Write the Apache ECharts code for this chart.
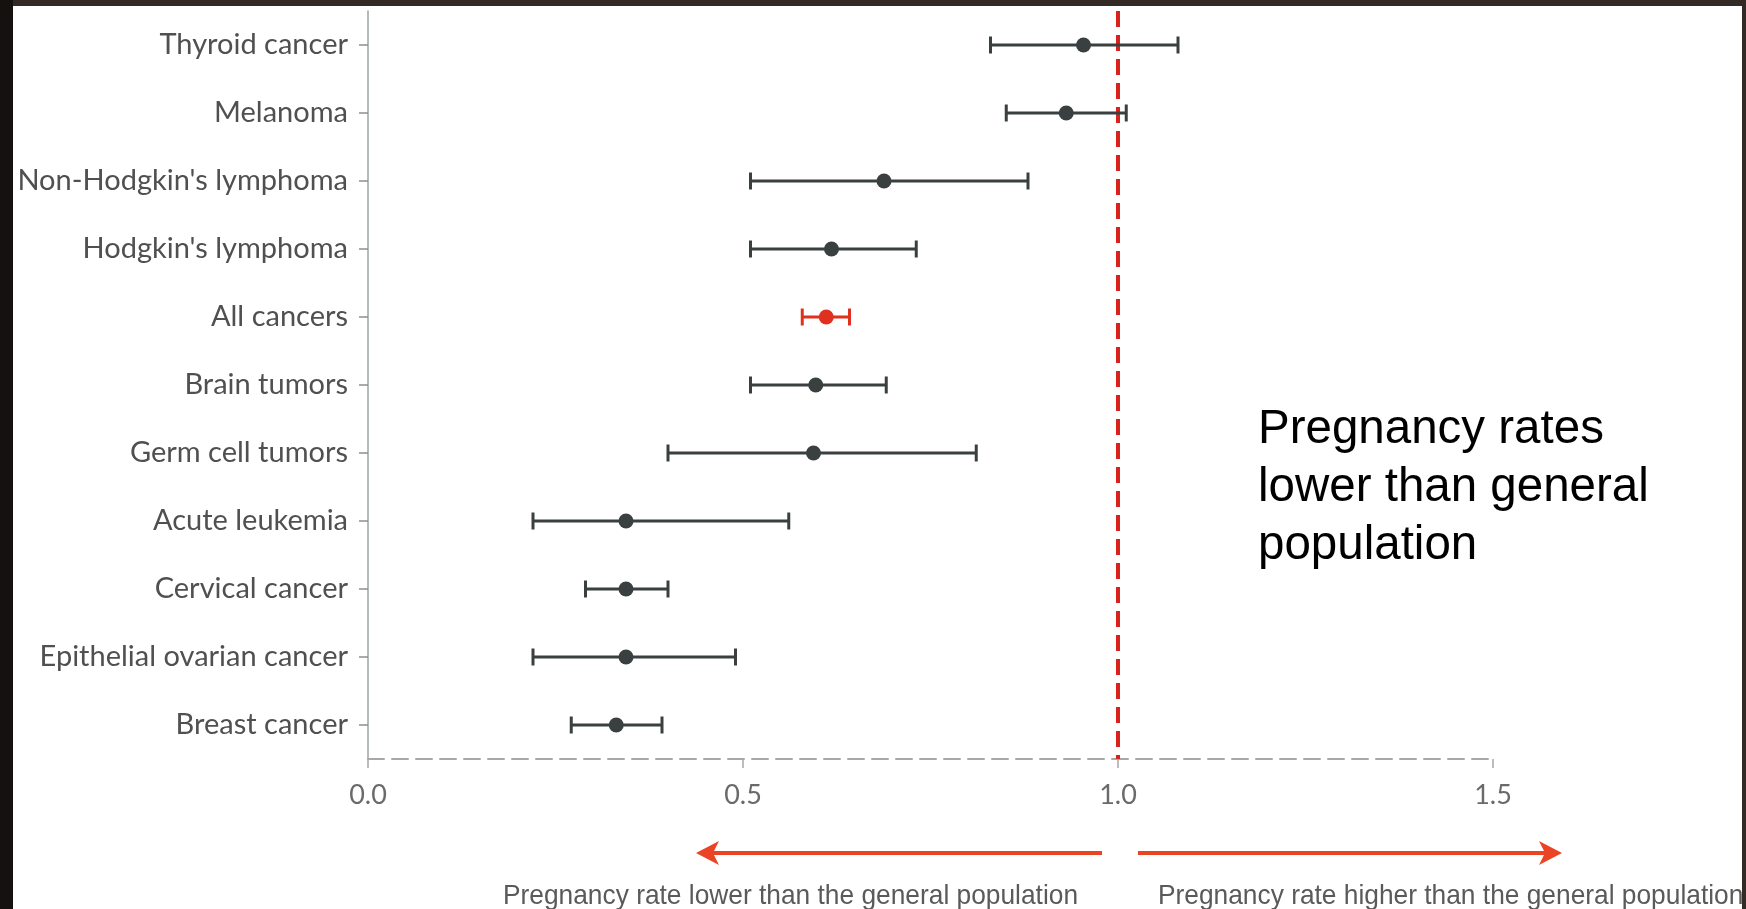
<!DOCTYPE html>
<html>
<head>
<meta charset="utf-8">
<script src="https://cdn.jsdelivr.net/npm/echarts@6/dist/echarts.min.js"></script>
<style>
  html, body { margin: 0; padding: 0; background: #2f2722; }
  #chart { width: 1746px; height: 909px; }
</style>
</head>
<body>
<div id="chart"></div>
<script>
// ---- data ----
const categories = ['Thyroid cancer', 'Melanoma', "Non-Hodgkin's lymphoma", "Hodgkin's lymphoma", 'All cancers',
  'Brain tumors', 'Germ cell tumors', 'Acute leukemia', 'Cervical cancer', 'Epithelial ovarian cancer', 'Breast cancer'];
const lowerCI  = [0.83, 0.851, 0.51, 0.51, 0.579, 0.51, 0.40, 0.22, 0.29, 0.22, 0.271];
const estimate = [0.954, 0.931, 0.688, 0.618, 0.611, 0.597, 0.594, 0.344, 0.344, 0.344, 0.331];
const upperCI  = [1.08, 1.011, 0.88, 0.731, 0.642, 0.691, 0.811, 0.561, 0.40, 0.49, 0.392];
const referenceValue = 1.0;
const highlightCategory = 'All cancers';
const annotationLines = ['Pregnancy rates', 'lower than general', 'population'];
const lowerLabel = 'Pregnancy rate lower than the general population';
const higherLabel = 'Pregnancy rate higher than the general population';

const DARK = '#3a4040';
const RED = '#e0301e';
const ORANGE = '#ea4424';

const chart = echarts.init(document.getElementById('chart'));

const seriesData = categories.map((c, i) => [i, lowerCI[i], estimate[i], upperCI[i]]);

function renderItem(params, api) {
  const yi = api.value(0);
  const lo = api.coord([api.value(1), yi]);
  const mid = api.coord([api.value(2), yi]);
  const hi = api.coord([api.value(3), yi]);
  const color = categories[yi] === highlightCategory ? RED : DARK;
  const cap = 8.5;
  const lw = 3;
  return {
    type: 'group',
    children: [
      { type: 'line', shape: { x1: lo[0], y1: lo[1], x2: hi[0], y2: hi[1] }, style: { stroke: color, lineWidth: lw } },
      { type: 'line', shape: { x1: lo[0], y1: lo[1] - cap, x2: lo[0], y2: lo[1] + cap }, style: { stroke: color, lineWidth: lw } },
      { type: 'line', shape: { x1: hi[0], y1: hi[1] - cap, x2: hi[0], y2: hi[1] + cap }, style: { stroke: color, lineWidth: lw } },
      { type: 'circle', shape: { cx: mid[0], cy: mid[1], r: 7.5 }, style: { fill: color } }
    ]
  };
}

const labelFont = 'Lato';
const captionFont = '"Liberation Sans", Arial, sans-serif';

const option = {
  backgroundColor: '#ffffff',
  animation: false,
  grid: { left: 368, right: 253, top: 11, bottom: 150 },
  xAxis: {
    type: 'value',
    min: 0, max: 1.5, interval: 0.5,
    axisLine: { show: true, lineStyle: { color: '#a8a8a8', width: 2, type: [16, 8] } },
    axisTick: { show: true, length: 9, lineStyle: { color: '#a8a8a8', width: 1.5 } },
    splitLine: { show: false },
    axisLabel: {
      formatter: v => v.toFixed(1),
      fontFamily: labelFont, fontSize: 27, color: '#6a6a6a', margin: 23
    }
  },
  yAxis: {
    type: 'category',
    data: categories,
    inverse: true,
    axisLine: { show: true, lineStyle: { color: '#9aa4a4', width: 1.5 } },
    axisTick: { show: true, alignWithLabel: true, length: 9, lineStyle: { color: '#8a9090', width: 1.5 } },
    splitLine: { show: false },
    axisLabel: { fontFamily: labelFont, fontSize: 29, color: '#505050', margin: 20 }
  },
  series: [
    {
      type: 'custom',
      renderItem: renderItem,
      encode: { x: [1, 2, 3], y: 0 },
      data: seriesData,
      z: 5
    },
    {
      type: 'line',
      data: [],
      z: 3,
      markLine: {
        silent: true,
        symbol: 'none',
        label: { show: false },
        lineStyle: { color: '#d9221c', width: 4, type: [16, 8] },
        data: [{ xAxis: referenceValue }]
      }
    }
  ],
  graphic: [
    // annotation block
    ...annotationLines.map((t, i) => ({
      type: 'text', left: 1258, top: 406 + i * 58, z: 10,
      style: { text: t, font: '47.5px "Liberation Sans", Arial, sans-serif', fill: '#000000' }
    })),
    // left arrow
    { type: 'line', z: 10, shape: { x1: 1102, y1: 853, x2: 708, y2: 853 }, style: { stroke: ORANGE, lineWidth: 4 } },
    { type: 'polygon', z: 10, shape: { points: [[696, 853], [719, 841], [713, 853], [719, 865]] }, style: { fill: ORANGE } },
    // right arrow
    { type: 'line', z: 10, shape: { x1: 1138, y1: 853, x2: 1550, y2: 853 }, style: { stroke: ORANGE, lineWidth: 4 } },
    { type: 'polygon', z: 10, shape: { points: [[1562, 853], [1539, 841], [1545, 853], [1539, 865]] }, style: { fill: ORANGE } },
    // bottom captions (condensed look via horizontal scale)
    { type: 'text', x: 503, y: 896, scaleX: 0.94, z: 10,
      style: { text: lowerLabel, font: '28px ' + captionFont, fill: '#5a5a5a', textVerticalAlign: 'middle' } },
    { type: 'text', x: 1158, y: 896, scaleX: 0.94, z: 10,
      style: { text: higherLabel, font: '28px ' + captionFont, fill: '#5a5a5a', textVerticalAlign: 'middle' } },
    // dark frame
    { type: 'rect', z: 100, shape: { x: 0, y: 0, width: 1746, height: 6 }, style: { fill: '#342a25' } },
    { type: 'rect', z: 100, shape: { x: 0, y: 0, width: 13, height: 909 }, style: { fill: '#15110f' } },
    { type: 'rect', z: 100, shape: { x: 1742, y: 0, width: 4, height: 909 }, style: { fill: '#342a25' } }
  ]
};

chart.setOption(option);
</script>
</body>
</html>
